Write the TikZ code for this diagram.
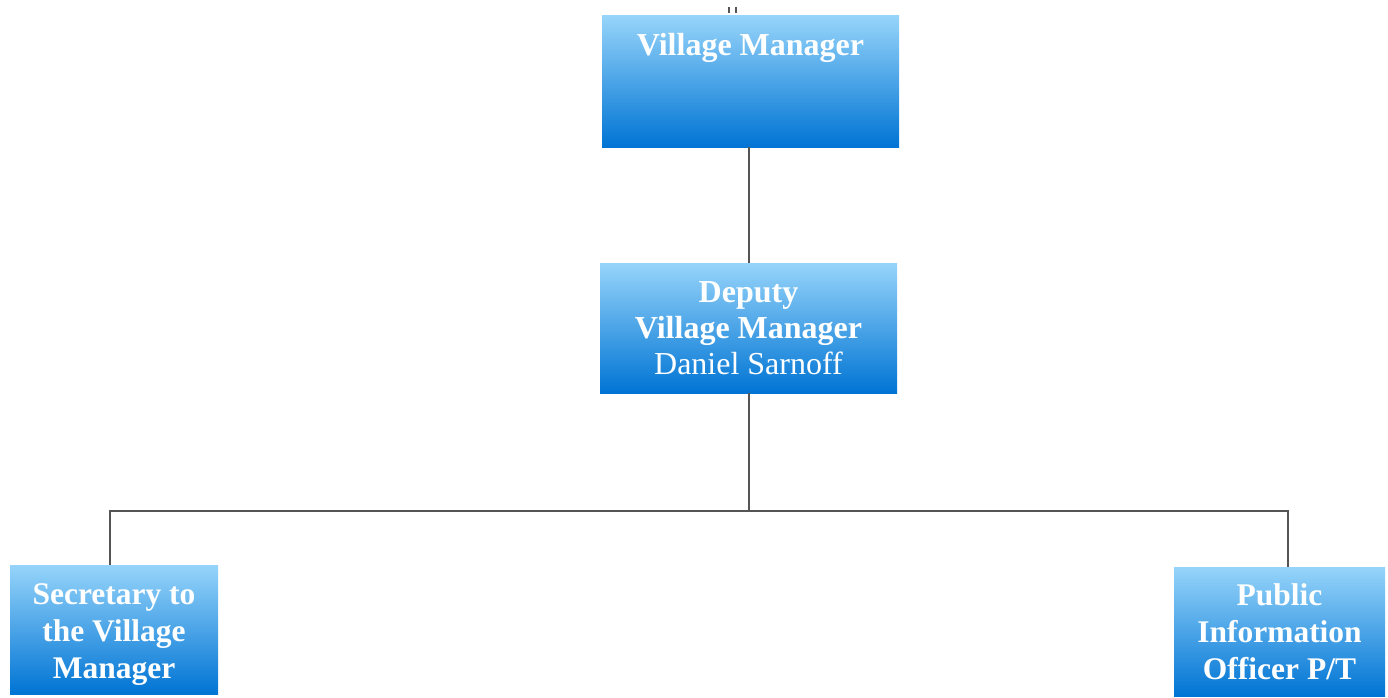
\documentclass[tikz,border=0pt]{standalone}
\usepackage{fontspec}
\setmainfont{Liberation Serif}
\begin{document}
\begin{tikzpicture}[x=1pt,y=-1pt,
  every node/.style={inner sep=0pt, outer sep=0pt},
  orgbox/.style={rectangle, shading=axis, top color=boxtop, bottom color=boxbot,
    shading angle=0, text=white, align=center,
    font=\fontsize{32}{36}\selectfont\bfseries},
  lowbox/.style={orgbox, minimum height=129pt,
    font=\fontsize{31.5}{37}\selectfont\bfseries},
  link/.style={draw=linegray, line width=2pt}
]
\definecolor{boxtop}{RGB}{150,212,250}
\definecolor{boxbot}{RGB}{0,116,212}
\definecolor{linegray}{RGB}{85,85,85}
\useasboundingbox (0,0) rectangle (1388,698);

% boxes
\node[orgbox, minimum width=297pt, text height=40pt, text depth=91pt]
  (vm) at (750.5,81.5) {Village Manager};
\node[orgbox, minimum width=297pt, minimum height=130pt]
  (dep) at (748.5,328) {Deputy\\Village Manager\\{\mdseries Daniel Sarnoff}};
\node[lowbox, minimum width=208pt]
  (sec) at (114,629.5) {\rule{0pt}{30pt}Secretary to\\the Village\\Manager};
\node[lowbox, minimum width=211pt]
  (pio) at (1279.5,631.5) {Public\\Information\\Officer P/T};

% connectors
\coordinate (bus) at (749,511);
\draw[link] (vm.south -| bus) -- (dep.north -| bus);
\draw[link] (dep.south -| bus) -- (bus);
\draw[link] (bus) -| ([xshift=-4pt]sec.north);
\draw[link] (bus) -| ([xshift=8.5pt]pio.north);

% small tick marks above the top box
\draw[linegray, line width=1.2pt] (729,7) -- (729,13) (736,7) -- (736,13);
\end{tikzpicture}
\end{document}
